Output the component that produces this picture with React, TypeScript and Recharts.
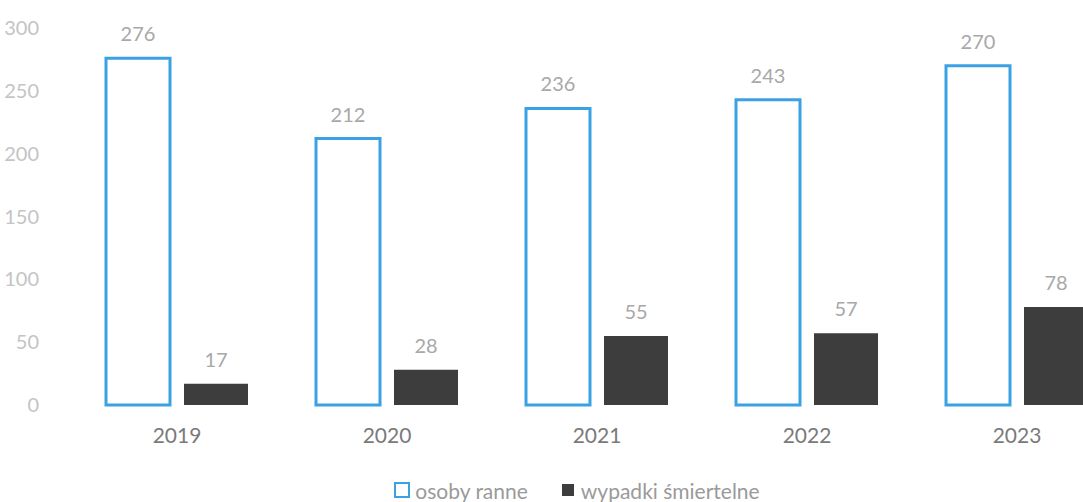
import { Bar, BarChart, LabelList, Legend, XAxis, YAxis } from "recharts";

const years = ["2019", "2020", "2021", "2022", "2023"];
const injured = [276, 212, 236, 243, 270];
const fatal = [17, 28, 55, 57, 78];
const yTicks = [0, 50, 100, 150, 200, 250, 300];

const data = years.map((year, i) => ({ year, injured: injured[i], fatal: fatal[i] }));

const FONT = "Lato, 'Open Sans', sans-serif";
const BLUE = "#3aa2e4";
const DARK = "#3d3d3d";

const LegendBody = () => (
  <div
    style={{
      display: "flex",
      justifyContent: "center",
      alignItems: "center",
      gap: 34,
      fontFamily: FONT,
      fontSize: 21,
      color: "#9a9a9a",
      height: 24,
      paddingLeft: 30,
    }}
  >
    <span style={{ display: "flex", alignItems: "center", gap: 5 }}>
      <span style={{ width: 12, height: 12, border: `2px solid ${BLUE}`, display: "inline-block" }} />
      osoby ranne
    </span>
    <span style={{ display: "flex", alignItems: "center", gap: 7 }}>
      <span style={{ width: 12, height: 12, background: DARK, display: "inline-block" }} />
      wypadki śmiertelne
    </span>
  </div>
);

export default function App() {
  return (
    <div
      style={{
        position: "fixed",
        left: 0,
        top: 0,
        width: 1083,
        height: 502,
        overflow: "hidden",
        background: "#fff",
      }}
    >
      <BarChart
        width={1122}
        height={502}
        data={data}
        margin={{ top: 28, right: 0, bottom: 0, left: 2 }}
        barSize={64}
        barGap={14}
      >
        <XAxis
          dataKey="year"
          axisLine={false}
          tickLine={false}
          tickMargin={17}
          height={73}
          tick={{ fontSize: 21, fill: "#7a7a7a", fontFamily: FONT }}
        />
        <YAxis
          domain={[0, 300]}
          ticks={yTicks}
          width={70}
          axisLine={false}
          tickLine={false}
          tickMargin={27}
          tick={{ fontSize: 20, fill: "#c4c4c4", fontFamily: FONT }}
        />
        <Legend verticalAlign="bottom" content={<LegendBody />} />
        <Bar dataKey="injured" fill="#ffffff" stroke={BLUE} strokeWidth={3} isAnimationActive={false}>
          <LabelList
            dataKey="injured"
            position="top"
            offset={17}
            style={{ fontSize: 20, fill: "#a8a8a8", fontFamily: FONT }}
          />
        </Bar>
        <Bar dataKey="fatal" fill={DARK} isAnimationActive={false}>
          <LabelList
            dataKey="fatal"
            position="top"
            offset={17}
            style={{ fontSize: 20, fill: "#a8a8a8", fontFamily: FONT }}
          />
        </Bar>
      </BarChart>
    </div>
  );
}
